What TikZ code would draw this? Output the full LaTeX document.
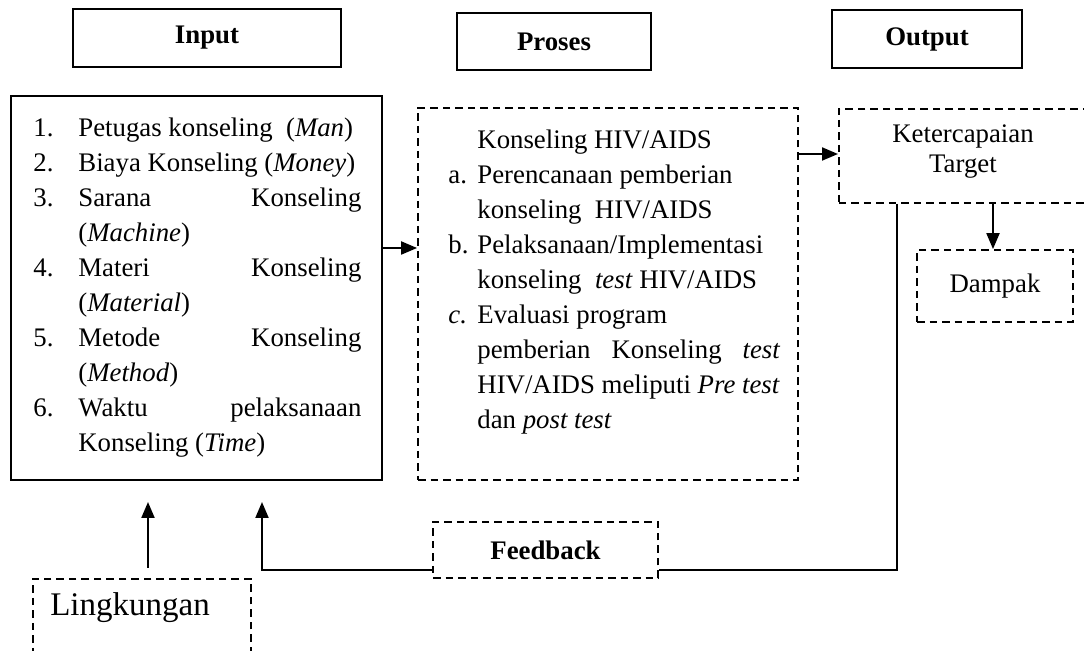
\documentclass[tikz,border=0pt]{standalone}
\usepackage{fontspec}
\setmainfont{Liberation Serif}
\usetikzlibrary{arrows.meta}
\newcommand\inItem[2]{\makebox[22.5pt][l]{#1}#2}
\newcommand\prItem[2]{\makebox[14.5pt][l]{#1}#2}
\tikzset{
  titlebox/.style={draw, line width=1pt, font=\fontsize{13.4}{16}\selectfont\bfseries, inner sep=0pt},
  solidbox/.style={draw, line width=1pt, inner sep=0pt},
  dashbox/.style={draw, line width=0.9pt, dash pattern=on 3.75pt off 2.5pt, inner sep=0pt},
  listtext/.style={inner sep=0pt, align=left, font=\fontsize{13.4}{17.5}\selectfont},
  conn/.style={line width=1pt},
  arr/.style={line width=1pt, -{Triangle[length=8pt,width=6.5pt]}},
}
\begin{document}
\begin{tikzpicture}[x=0.5pt,y=-0.5pt]
\clip (0,0) rectangle (1084,651);
\fill[white] (0,0) rectangle (1084,651);
% title boxes
\node[titlebox, minimum width=134pt, minimum height=29pt] (tin) at (207,38) {Input};
\node[titlebox, minimum width=97pt, minimum height=28.5pt] (tpr) at (554,41.5) {Proses};
\node[titlebox, minimum width=95pt, minimum height=29pt] (tout) at (927,39) {Output};
% input box
\node[solidbox, minimum width=185.5pt, minimum height=192pt] (inbox) at (196.5,288) {};
\node[listtext, anchor=north west] (intxt) at (33,118) {%
\inItem{1.}{Petugas konseling\ \ (\textit{Man})}\\
\inItem{2.}{Biaya Konseling (\textit{Money})}\\
\inItem{3.}{\makebox[141.5pt][l]{Sarana\hfill Konseling}}\\
\inItem{}{(\textit{Machine})}\\
\inItem{4.}{\makebox[141.5pt][l]{Materi\hfill Konseling}}\\
\inItem{}{(\textit{Material})}\\
\inItem{5.}{\makebox[141.5pt][l]{Metode\hfill Konseling}}\\
\inItem{}{(\textit{Method})}\\
\inItem{6.}{\makebox[141.5pt][l]{Waktu\hfill pelaksanaan}}\\
\inItem{}{Konseling (\textit{Time})}};
% proses box
\node[dashbox, minimum width=190pt, minimum height=186pt] (prbox) at (608,294) {};
\node[listtext, anchor=north west] (prtxt) at (448,130) {%
\prItem{}{Konseling HIV/AIDS}\\
\prItem{a.}{Perencanaan pemberian}\\
\prItem{}{konseling\ \ HIV/AIDS}\\
\prItem{b.}{Pelaksanaan/Implementasi}\\
\prItem{}{konseling\ \ \textit{test} HIV/AIDS}\\
\prItem{\textit{c.}}{Evaluasi program}\\
\prItem{}{\makebox[151.5pt][l]{pemberian\hfill Konseling\hfill \textit{test}}}\\
\prItem{}{HIV/AIDS meliputi \textit{Pre test}}\\
\prItem{}{dan \textit{post test}}};
% ketercapaian box (runs off the right edge)
\node[dashbox, minimum width=130pt, minimum height=47pt, anchor=north west] (ket) at (838,108) {};
\node[inner sep=0pt, align=center, font=\fontsize{13.4}{15}\selectfont] (kettxt) at (963,152) {Ketercapaian\\Target};
% dampak
\node[dashbox, minimum width=78pt, minimum height=36pt, font=\fontsize{13.4}{15}\selectfont] (dam) at (995,286) {Dampak};
% feedback
\node[dashbox, minimum width=112.5pt, minimum height=28pt, font=\fontsize{13.4}{15}\selectfont\bfseries] (fb) at (545.5,550) {Feedback};
% lingkungan
\node[dashbox, minimum width=109pt, minimum height=60pt, anchor=north west] (lingbox) at (32,578) {};
\node[inner sep=0pt, font=\fontsize{16.5}{19}\selectfont] (lingtxt) at (130,608) {Lingkungan};
% connectors
\coordinate (a1) at (148,502);
\coordinate (a2) at (262,502);
\coordinate (fbr) at (897,570);
\coordinate (fbl) at (262,570);
\draw[arr] (inbox.east |- 0,248) -- (prbox.west |- 0,248);
\draw[arr] (prbox.east |- 0,154) -- (ket.west |- 0,154);
\draw[arr] (ket.south -| 993,0) -- (dam.north -| 993,0);
\draw[conn] (ket.south -| fbr) -- (fbr) -- (fb.east |- fbr);
\draw[arr] (fb.west |- fbl) -- (fbl) -- (a2);
\draw[arr] (lingbox.north -| a1) ++(0,-10) -- (a1);
\end{tikzpicture}
\end{document}
